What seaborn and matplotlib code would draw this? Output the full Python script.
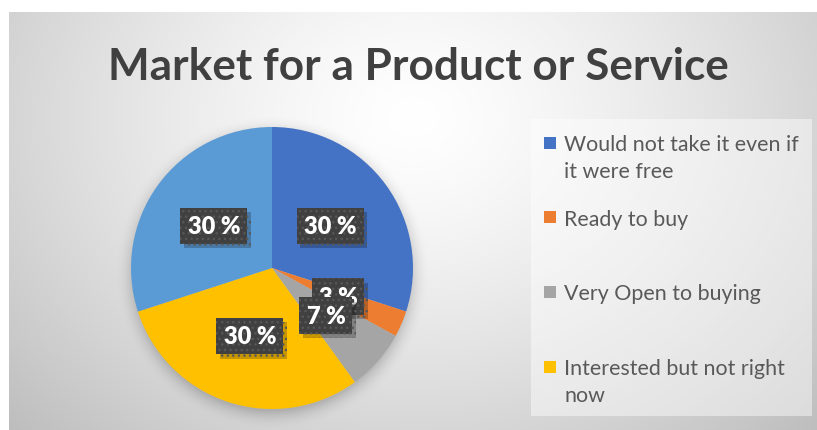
import textwrap
import numpy as np
import matplotlib
matplotlib.use("Agg")
import matplotlib.pyplot as plt
import matplotlib.patheffects as pe
from matplotlib.patches import Rectangle
import seaborn as sns

# ---------------- data ----------------
categories = [
    "Would not take it even if it were free",
    "Ready to buy",
    "Very Open to buying",
    "Interested but not right now",
    "Other",
]
shares = [30, 3, 7, 30, 30]
colors = ["#4472C4", "#ED7D31", "#A5A5A5", "#FFC000", "#5B9BD5"]
legend_count = 4  # only the first four entries are visible in the legend
title = "Market for a Product or Service"

# ---------------- style ----------------
sns.set_theme(style="white")
plt.rcParams["font.family"] = ["Lato", "DejaVu Sans"]
plt.rcParams["hatch.linewidth"] = 1.0

W, H = 817, 431
fig = plt.figure(figsize=(W / 100, H / 100), dpi=100)
fig.patch.set_facecolor("white")

# ---------------- background (radial gradient + pie shadow) ----------------
bx0, by0 = 9, 13
bw, bh = W - bx0, H - by0
bg = fig.add_axes([bx0 / W, 0, bw / W, bh / H])
yy, xx = np.mgrid[0:bh, 0:bw]
cx, cy = bw * 0.5, bh * 0.25
r = np.sqrt(((xx - cx) / (bw * 0.55)) ** 2 + ((yy - cy) / (bh * 0.85)) ** 2)
v = 255 - 68 * np.clip(r / 1.3, 0, 1) ** 1.35
pcx, pcy, R = 272 - bx0, 269 - by0 + 4, 141
d = np.sqrt((xx - pcx) ** 2 + (yy - pcy) ** 2)
s = np.clip(1 - (d - R + 3) / 20, 0, 1) ** 2 * 40
v = v - s
img = np.clip(np.dstack([v, v, v]), 0, 255).astype(np.uint8)
bg.imshow(img, aspect="auto", interpolation="bilinear")
bg.axis("off")

# ---------------- pie ----------------
cxp, cyp, Rp = 272, 269, 141
ax = fig.add_axes([(cxp - Rp) / W, (H - cyp - Rp) / H, 2 * Rp / W, 2 * Rp / H])
wedges, texts, autotexts = ax.pie(
    shares,
    colors=colors,
    startangle=90,
    counterclock=False,
    autopct=lambda p: f"{p:.0f} %",
    pctdistance=0.51,
    wedgeprops=dict(linewidth=0),
    textprops=dict(color="white", fontsize=17, fontweight="heavy"),
)
ax.set_xlim(-1, 1)
ax.set_ylim(-1, 1)
for t in autotexts:
    t.set_bbox(dict(boxstyle="square,pad=0.3", facecolor="#404040",
                    edgecolor="#575757", linewidth=0, hatch="..."))
    t.get_bbox_patch().set_path_effects([
        pe.SimplePatchShadow(offset=(2.5, -3), shadow_rgbFace="black", alpha=0.22),
        pe.Normal(),
    ])

# ---------------- title ----------------
fig.text(418 / W, 1 - 80 / H, title, ha="center", va="baseline",
         fontsize=31.8, fontweight="bold", color="#404040")

# ---------------- legend ----------------
lx0, ly0, lw, lh = 531, 120, 281, 297
lax = fig.add_axes([lx0 / W, 1 - (ly0 + lh) / H, lw / W, lh / H])
lax.set_xlim(0, lw)
lax.set_ylim(lh, 0)
lax.set_facecolor((1, 1, 1, 0.45))
lax.set_xticks([])
lax.set_yticks([])
for sp in lax.spines.values():
    sp.set_visible(False)
slot = 74.7
for i in range(legend_count):
    yc = 23.5 + i * slot
    lax.add_patch(Rectangle((13, yc - 6), 12, 12, facecolor=colors[i], edgecolor="none"))
    lax.text(33, yc - 8.5, textwrap.fill(categories[i], 25), ha="left", va="top",
             fontsize=15.4, color="#595959", linespacing=1.45)

fig.savefig("out.png", dpi=100)
